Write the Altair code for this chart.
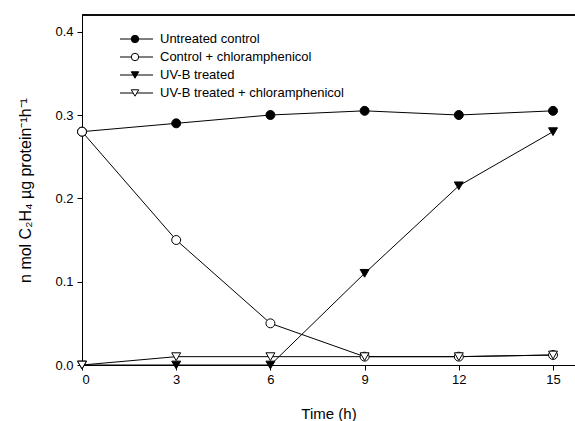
import altair as alt
import pandas as pd

time = [0, 3, 6, 9, 12, 15]
untreated = [0.280, 0.290, 0.300, 0.305, 0.300, 0.305]
control_chl = [0.280, 0.150, 0.050, 0.010, 0.010, 0.012]
uvb = [0.000, 0.000, 0.000, 0.110, 0.215, 0.280]
uvb_chl = [0.000, 0.010, 0.010, 0.010, 0.010, 0.012]

series = ["Untreated control", "Control + chloramphenicol", "UV-B treated", "UV-B treated + chloramphenicol"]
shapes = ["circle", "circle", "triangle-down", "triangle-down"]
fills = ["black", "white", "black", "white"]
legend_rows = [24, 42, 60, 78]

rows = []
for name, vals in zip(series, [untreated, control_chl, uvb, uvb_chl]):
    for t, v in zip(time, vals):
        rows.append({"time": t, "value": v, "series": name})
df = pd.DataFrame(rows)
leg = pd.DataFrame({"series": series})

FONT = "Liberation Sans"
W, H = 493, 350

xs = alt.Scale(domain=[0, 15.7], nice=False)
ys = alt.Scale(domain=[0, 0.42], nice=False)
shape_s = alt.Scale(domain=series, range=shapes)
fill_s = alt.Scale(domain=series, range=fills)

base = alt.Chart(df)
lines = base.mark_line(color="black", strokeWidth=1).encode(
    x=alt.X("time:Q", scale=xs,
            axis=alt.Axis(values=time, title="Time (h)", grid=False, tickSize=5,
                          labelPadding=3, titlePadding=20, domainColor="black",
                          tickColor="black", labelColor="black", titleColor="black",
                          labelFont=FONT, titleFont=FONT, labelFontSize=13,
                          titleFontSize=15, titleFontWeight="normal")),
    y=alt.Y("value:Q", scale=ys,
            axis=alt.Axis(values=[0, 0.1, 0.2, 0.3, 0.4], format=".1f",
                          title="n mol C₂H₄ µg protein⁻¹h⁻¹", grid=False, tickSize=5,
                          labelPadding=4, titlePadding=21, domainColor="black",
                          tickColor="black", labelColor="black", titleColor="black",
                          labelFont=FONT, titleFont=FONT, labelFontSize=13,
                          titleFontSize=16, titleFontWeight="normal")),
    detail="series:N",
)
points = base.mark_point(stroke="black", strokeWidth=1, opacity=1, size=80).encode(
    x=alt.X("time:Q", scale=xs),
    y=alt.Y("value:Q", scale=ys),
    shape=alt.Shape("series:N", scale=shape_s, legend=None),
    fill=alt.Fill("series:N", scale=fill_s, legend=None),
)

top = alt.Chart(leg).mark_rule(color="black", strokeWidth=1).encode(
    x=alt.value(0), x2=alt.value(W), y=alt.value(0))

legend_layers = []
for name, shp, fl, yy in zip(series, shapes, fills, legend_rows):
    src = alt.Chart(leg).transform_filter(alt.datum.series == name)
    legend_layers.append(src.mark_rule(color="black", strokeWidth=1).encode(
        x=alt.value(38), x2=alt.value(71), y=alt.value(yy)))
    legend_layers.append(src.mark_point(shape=shp, fill=fl, stroke="black", strokeWidth=1,
                                        opacity=1, size=55).encode(
        x=alt.value(53), y=alt.value(yy)))
    legend_layers.append(src.mark_text(align="left", baseline="middle", font=FONT,
                                       fontSize=13, color="black").encode(
        x=alt.value(78), y=alt.value(yy), text="series:N"))

chart = alt.layer(lines, points, top, *legend_layers).properties(
    width=W, height=H,
    autosize=alt.AutoSizeParams(type="none"),
    padding={"left": 82, "top": 15, "right": 0, "bottom": 56},
).configure_view(stroke=None).configure(background="white")

chart.save("out.html", embed_options={"renderer": "svg", "actions": False})
